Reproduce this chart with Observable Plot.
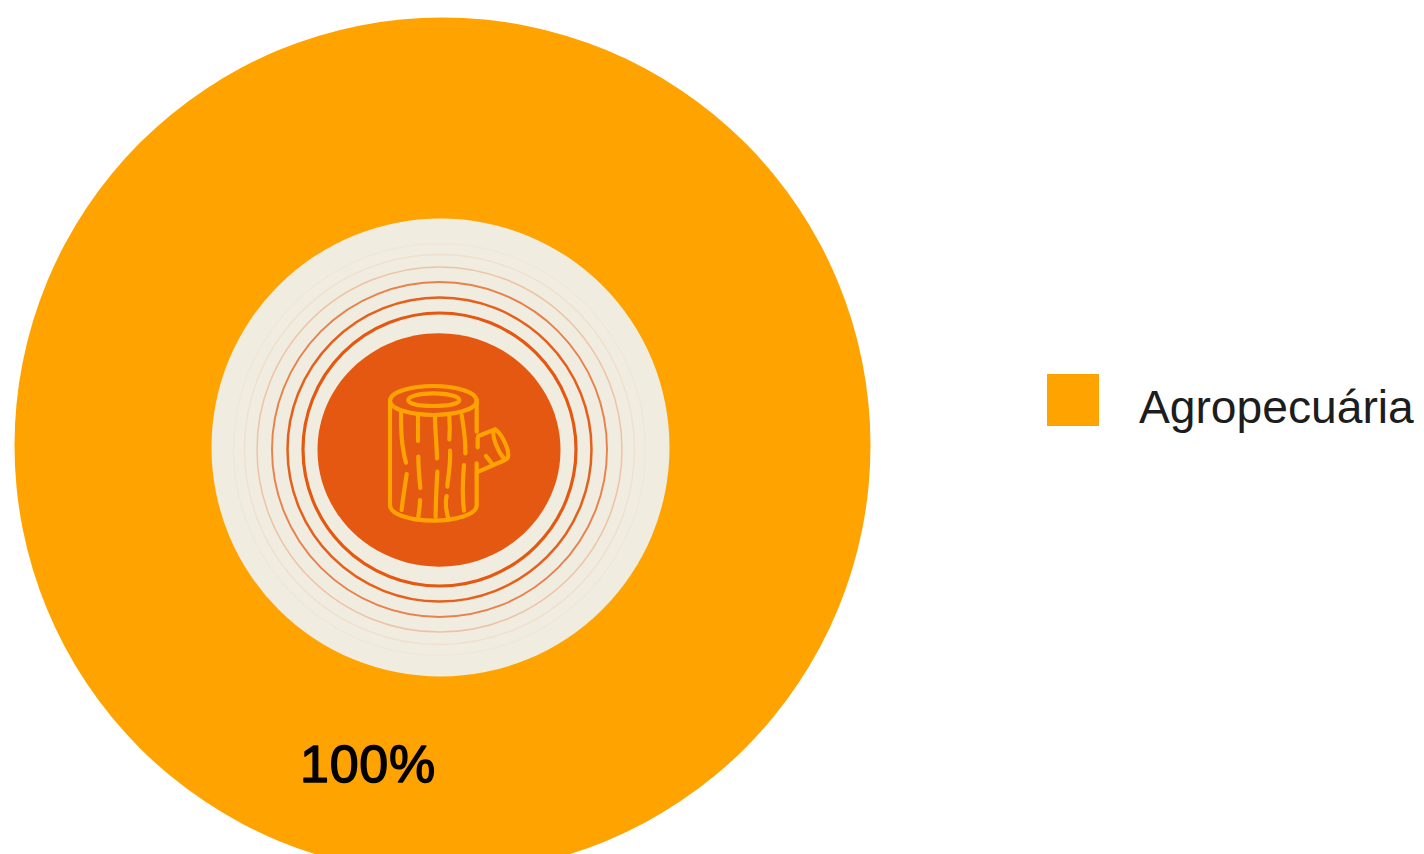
<!DOCTYPE html>
<html lang="pt">
<head>
<meta charset="utf-8">
<style>
  html, body { margin: 0; padding: 0; background: #fff; }
  #chart { position: relative; width: 1424px; height: 854px; overflow: hidden; }
  #chart svg text { letter-spacing: 0.8px; }
  #legend { position: absolute; left: 1047px; top: 374px; }
  #legend .swatch { position: absolute; left: 0; top: 0; width: 52px; height: 52px; background: #ffa300; }
  #legend .name { position: absolute; left: 92px; top: 0; font: 46.2px/66px "Liberation Sans", Arial, sans-serif; color: #1d1d1d; white-space: nowrap; }
</style>
<script src="https://cdn.jsdelivr.net/npm/d3@7"></script>
<script src="https://cdn.jsdelivr.net/npm/@observablehq/plot@0.6"></script>
</head>
<body>
<div id="chart"></div>
<script>
// Land-use share
const categories = ["Agropecuária"];
const shares = [100];
const shareLabels = ["100%"];

// Radial layers
const layerNames = ["total", "fundo"];
const layerRadii = [428, 229];
const layerColors = ["#ffa300", "#f0ecdf"];
const layerX = [442, 440];
const layerY = [445, 447];

// Central disc, slightly wider than tall
const coreX = [438.5];
const coreY = [449.5];
const coreRadius = [121.5];
const coreAspect = 0.96;

// Growth rings, inner to outer, fading towards the edge
const ringRadii = [136.5, 152, 167.5, 182.5, 195, 206];
const ringOpacity = [1, 0.95, 0.72, 0.28, 0.08, 0.03];
const ringWidth = [3.2, 2.5, 1.9, 1.5, 1.4, 1.4];

// Log pictogram, drawn in a 570×540 design box
const logPaths = [
  "M150 122C150 95 215 78 280 78C345 78 410 95 410 122C410 148 345 165 280 165C215 165 150 148 150 122Z",
  "M205 120C205 108 240 100 280 100C320 100 358 108 358 120C358 132 320 138 280 138C240 138 205 132 205 120Z",
  "M150 122V435C150 465 215 482 280 482C345 482 410 465 410 435V338",
  "M410 122V215", "M413 235V262", "M410 310V338",
  "M183 160C183 195 182 230 190 270C192 285 195 298 198 308",
  "M200 342C195 380 188 415 185 450",
  "M234 170V243",
  "M235 290C235 320 238 355 241 384",
  "M240 420C240 440 237 455 235 470",
  "M285 170C285 210 290 250 291 295",
  "M292 335C290 375 287 420 287 470",
  "M328 170C330 195 330 215 328 238",
  "M330 272C333 310 325 340 322 380",
  "M320 408C315 430 318 450 324 472",
  "M365 165C370 200 378 240 376 280",
  "M372 315C368 360 365 400 372 452",
  "M415 228L465 208C480 215 505 260 505 285C505 295 500 298 495 300L415 335",
  "M465 208C450 220 475 280 495 298",
  "M438 288L455 310"
];

// Dot symbol that stretches a circle into a flattened ellipse
const flatCircle = {
  draw(ctx, size) {
    const rx = Math.sqrt(size / Math.PI);
    const ry = rx * coreAspect;
    const k = 0.5523;
    ctx.moveTo(rx, 0);
    ctx.bezierCurveTo(rx, ry * k, rx * k, ry, 0, ry);
    ctx.bezierCurveTo(-rx * k, ry, -rx, ry * k, -rx, 0);
    ctx.bezierCurveTo(-rx, -ry * k, -rx * k, -ry, 0, -ry);
    ctx.bezierCurveTo(rx * k, -ry, rx, -ry * k, rx, 0);
    ctx.closePath();
  }
};

const chart = Plot.plot({
  width: 1424,
  height: 854,
  margin: 0,
  style: { background: "transparent" },
  x: { domain: [0, 1424], range: [0, 1424], axis: null },
  y: { domain: [0, 854], range: [0, 854], axis: null },
  r: { type: "identity" },
  marks: [
    Plot.dot(layerNames, {
      x: (d, i) => layerX[i],
      y: (d, i) => layerY[i],
      r: (d, i) => layerRadii[i],
      fill: (d, i) => layerColors[i]
    }),
    Plot.dot(ringRadii, {
      x: () => 439,
      y: () => 449,
      r: (d) => d,
      stroke: "#e55812",
      strokeWidth: (d, i) => ringWidth[i],
      strokeOpacity: (d, i) => ringOpacity[i],
      fill: "none"
    }),
    Plot.dot(coreRadius, {
      x: (d, i) => coreX[i],
      y: (d, i) => coreY[i],
      r: (d) => d,
      symbol: flatCircle,
      fill: "#e55812"
    }),
    // Pictogram, positioned through the chart's scales
    (index, { x, y }) => {
      const g = d3.create("svg:g")
        .attr("transform", `translate(${x(340)},${y(360)}) scale(${1 / 3})`)
        .attr("fill", "none")
        .attr("stroke", "#ffa300")
        .attr("stroke-width", 12.5)
        .attr("stroke-linecap", "round")
        .attr("stroke-linejoin", "round");
      g.selectAll("path").data(logPaths).join("path").attr("d", (d) => d);
      return g.node();
    },
    Plot.text(shareLabels, {
      x: () => 367.5,
      y: () => 765,
      text: (d) => d,
      fill: "#000",
      stroke: "#000",
      strokeWidth: 1.4,
      fontSize: 52,
      fontFamily: "Liberation Sans, Arial, sans-serif",
      textAnchor: "middle"
    })
  ]
});

const root = document.getElementById("chart");
root.appendChild(chart);

// Category key
const legend = d3.select(root).append("div").attr("id", "legend");
const row = legend.selectAll("div").data(categories).join("div");
row.append("div").attr("class", "swatch");
row.append("div").attr("class", "name").text((d) => d);
</script>
</body>
</html>
